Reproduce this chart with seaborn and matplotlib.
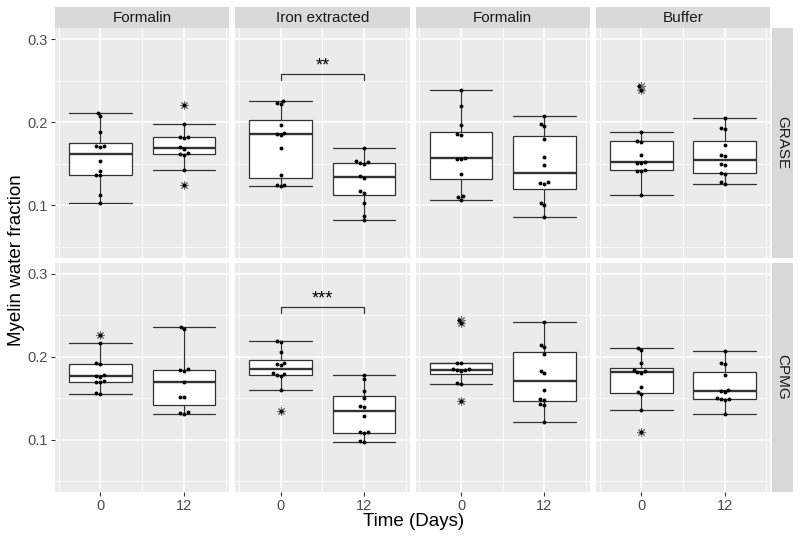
import matplotlib
matplotlib.use("Agg")
import matplotlib.pyplot as plt
import numpy as np
import pandas as pd
import seaborn as sns

# ---------------- data ----------------
panel_titles = ["Formalin", "Iron extracted", "Formalin", "Buffer"]
sequences = ["GRASE", "CPMG"]
days = ["0", "12"]

# GRASE row
grase_p1_d0 = [0.211, 0.207, 0.188, 0.171, 0.171, 0.170, 0.153, 0.141, 0.137, 0.136, 0.113, 0.103]
grase_p1_d12 = [0.221, 0.198, 0.182, 0.182, 0.181, 0.170, 0.168, 0.163, 0.162, 0.161, 0.143, 0.125]
grase_p2_d0 = [0.226, 0.223, 0.222, 0.197, 0.187, 0.186, 0.185, 0.169, 0.136, 0.125, 0.124, 0.123]
grase_p2_d12 = [0.169, 0.153, 0.152, 0.151, 0.150, 0.135, 0.133, 0.117, 0.115, 0.103, 0.087, 0.082]
grase_p3_d0 = [0.239, 0.220, 0.197, 0.186, 0.185, 0.157, 0.156, 0.156, 0.138, 0.111, 0.110, 0.107]
grase_p3_d12 = [0.207, 0.198, 0.196, 0.180, 0.158, 0.149, 0.128, 0.127, 0.126, 0.103, 0.101, 0.086]
grase_p4_d0 = [0.243, 0.239, 0.188, 0.177, 0.176, 0.160, 0.152, 0.151, 0.151, 0.142, 0.141, 0.141, 0.112]
grase_p4_d12 = [0.205, 0.193, 0.192, 0.173, 0.160, 0.159, 0.150, 0.148, 0.139, 0.138, 0.128, 0.126]

# CPMG row
cpmg_p1_d0 = [0.226, 0.217, 0.192, 0.191, 0.178, 0.177, 0.176, 0.171, 0.170, 0.169, 0.156, 0.155]
cpmg_p1_d12 = [0.236, 0.233, 0.185, 0.184, 0.183, 0.169, 0.152, 0.151, 0.133, 0.132, 0.131]
cpmg_p2_d0 = [0.219, 0.218, 0.206, 0.192, 0.191, 0.190, 0.180, 0.179, 0.178, 0.177, 0.160, 0.135]
cpmg_p2_d12 = [0.178, 0.173, 0.159, 0.150, 0.141, 0.140, 0.129, 0.110, 0.109, 0.108, 0.099, 0.097]
cpmg_p3_d0 = [0.244, 0.240, 0.193, 0.192, 0.185, 0.185, 0.184, 0.184, 0.183, 0.168, 0.167, 0.147]
cpmg_p3_d12 = [0.242, 0.214, 0.212, 0.203, 0.183, 0.181, 0.160, 0.149, 0.148, 0.143, 0.142, 0.121]
cpmg_p4_d0 = [0.211, 0.208, 0.193, 0.184, 0.183, 0.182, 0.181, 0.164, 0.157, 0.155, 0.136, 0.110]
cpmg_p4_d12 = [0.207, 0.192, 0.191, 0.178, 0.160, 0.159, 0.158, 0.150, 0.149, 0.149, 0.148, 0.131]

# significance annotations (row, panel, label, bracket height, tick drop)
sig_rows = ["GRASE", "CPMG"]
sig_panels = [1, 1]
sig_labels = ["**", "***"]
sig_heights = [0.258, 0.260]
sig_drop = 0.007

groups = {
    ("GRASE", 0): (grase_p1_d0, grase_p1_d12),
    ("GRASE", 1): (grase_p2_d0, grase_p2_d12),
    ("GRASE", 2): (grase_p3_d0, grase_p3_d12),
    ("GRASE", 3): (grase_p4_d0, grase_p4_d12),
    ("CPMG", 0): (cpmg_p1_d0, cpmg_p1_d12),
    ("CPMG", 1): (cpmg_p2_d0, cpmg_p2_d12),
    ("CPMG", 2): (cpmg_p3_d0, cpmg_p3_d12),
    ("CPMG", 3): (cpmg_p4_d0, cpmg_p4_d12),
}
rows = []
for (seq, p), (d0, d12) in groups.items():
    for d, vals in zip(days, (d0, d12)):
        for v in vals:
            rows.append({"Sequence": seq, "Panel": p, "Day": d, "MWF": v})
df = pd.DataFrame(rows)

# ---------------- style ----------------
sns.set_theme(style="white")
plt.rcParams["font.family"] = ["Liberation Sans", "DejaVu Sans"]

W, H = 800, 537
fig = plt.figure(figsize=(W / 100, H / 100), dpi=100)

col_left = [55, 235.3, 415.6, 595.9]
pw = 174.3
row_top = [28, 262.5]
ph = 229.5
strip_top = 7
rstrip_left, rstrip_right = 772, 793

def frac_rect(l, t, w, h):
    return [l / W, 1 - (t + h) / H, w / W, h / H]

panel_bg = "#EBEBEB"
strip_bg = "#D9D9D9"

for r, seq in enumerate(sequences):
    for c in range(4):
        ax = fig.add_axes(frac_rect(col_left[c], row_top[r], pw, ph))
        sub = df[(df.Sequence == seq) & (df.Panel == c)]
        sns.boxplot(data=sub, x="Day", y="MWF", order=days, color="white",
                    linecolor="#333333", linewidth=0.9, width=0.75,
                    whis=1.5, capwidths=0.75,
                    flierprops=dict(marker=(8, 2, 0), markersize=6,
                                    markeredgecolor="#777777",
                                    markeredgewidth=0.8),
                    medianprops=dict(linewidth=1.7, color="#333333"),
                    ax=ax)
        sns.swarmplot(data=sub, x="Day", y="MWF", order=days, color="black",
                      size=2.8, ax=ax, zorder=5)
        ax.set_facecolor(panel_bg)
        ax.set_xlim(-0.545, 1.545)
        ax.set_ylim(0.0373, 0.3133)
        ax.set_yticks([0.1, 0.2, 0.3])
        ax.set_yticks([0.05, 0.15, 0.25], minor=True)
        ax.set_xticks([0, 1])
        ax.set_xticks([-0.5, 0.5, 1.5], minor=True)
        ax.grid(True, which="major", color="white", linewidth=1.1)
        ax.grid(True, which="minor", color="white", linewidth=0.55)
        ax.set_axisbelow(True)
        for s in ax.spines.values():
            s.set_visible(False)
        ax.set_xlabel("")
        ax.set_ylabel("")
        ax.tick_params(axis="both", which="minor", length=0)
        if c == 0:
            ax.set_yticklabels(["0.1", "0.2", "0.3"])
            ax.tick_params(axis="y", which="major", length=3, width=0.8,
                           color="#333333", labelcolor="#4D4D4D",
                           labelsize=10.5, pad=2, left=True)
        else:
            ax.tick_params(axis="y", which="major", length=0, labelleft=False)
        if r == 1:
            ax.set_xticklabels(days)
            ax.tick_params(axis="x", which="major", length=3, width=0.8,
                           color="#333333", labelcolor="#4D4D4D",
                           labelsize=10.5, pad=2, bottom=True)
        else:
            ax.tick_params(axis="x", which="major", length=0, labelbottom=False)

        # significance brackets
        for srow, sp, lab, hgt in zip(sig_rows, sig_panels, sig_labels, sig_heights):
            if srow == seq and sp == c:
                ax.plot([0, 0, 1, 1], [hgt - sig_drop, hgt, hgt, hgt - sig_drop],
                        color="#333333", linewidth=0.9, zorder=6)
                ax.text(0.5, hgt - 0.001, lab, ha="center", va="bottom",
                        fontsize=13, color="black")

        # top strips
        if r == 0:
            sax = fig.add_axes(frac_rect(col_left[c], strip_top, pw, row_top[0] - strip_top))
            sax.set_facecolor(strip_bg)
            sax.set_xticks([]); sax.set_yticks([])
            for s in sax.spines.values():
                s.set_visible(False)
            sax.text(0.5, 0.5, panel_titles[c], ha="center", va="center",
                     fontsize=11, color="#1A1A1A", transform=sax.transAxes)

    # right strips
    rax = fig.add_axes(frac_rect(rstrip_left, row_top[r], rstrip_right - rstrip_left, ph))
    rax.set_facecolor(strip_bg)
    rax.set_xticks([]); rax.set_yticks([])
    for s in rax.spines.values():
        s.set_visible(False)
    rax.text(0.5, 0.5, seq, ha="center", va="center", rotation=-90,
             fontsize=11, color="#1A1A1A", transform=rax.transAxes)

fig.text(413.5 / W, 1 - 521 / H, "Time (Days)", ha="center", va="center",
         fontsize=13.5, color="black")
fig.text(17 / W, 1 - 260 / H, "Myelin water fraction", ha="center", va="center",
         rotation=90, fontsize=13.5, color="black")

fig.savefig("out.png", dpi=100, facecolor="white")
